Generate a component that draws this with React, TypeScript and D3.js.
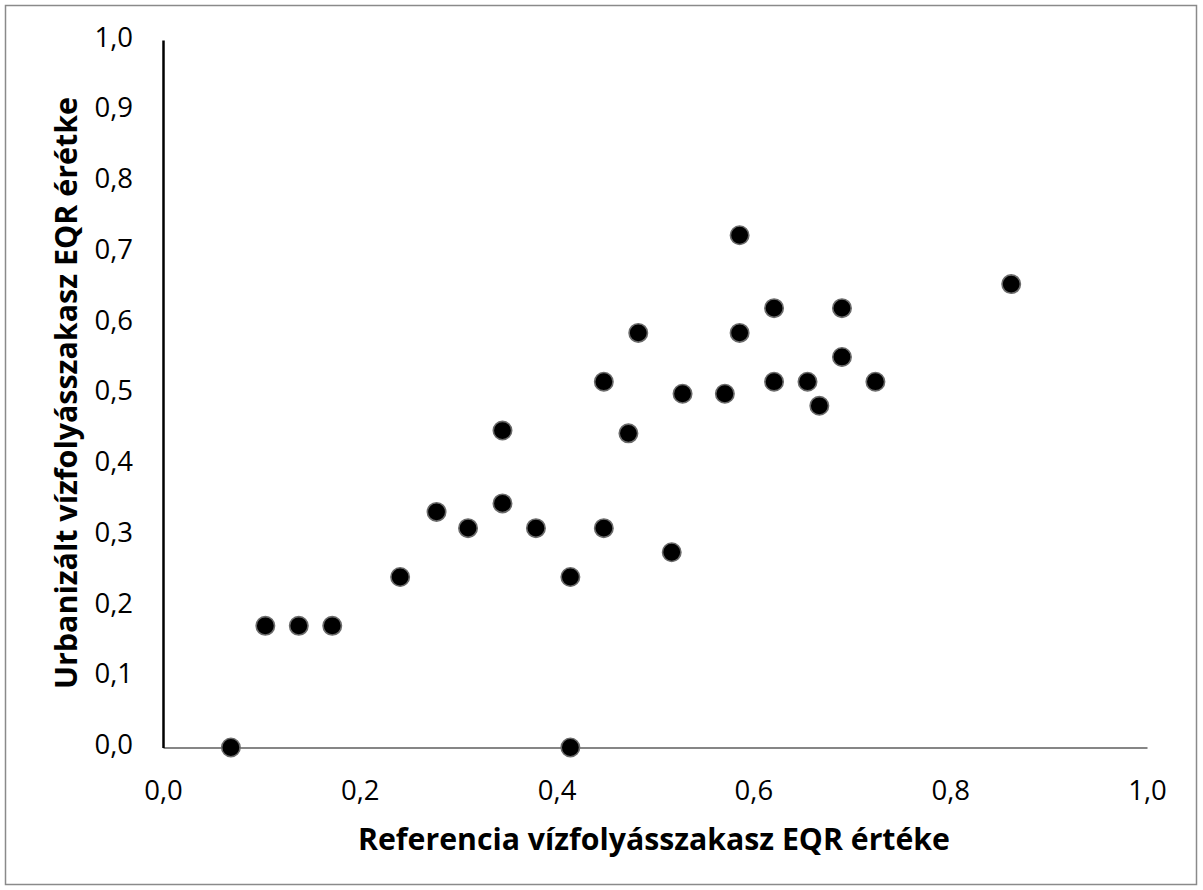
import React, { useEffect, useRef } from 'react';
import * as d3 from 'd3';

// Reference stream reach EQR (x) vs urbanized stream reach EQR (y)
const refEQR = [0.069, 0.104, 0.138, 0.172, 0.241, 0.278, 0.310, 0.345, 0.345, 0.379,
  0.414, 0.414, 0.448, 0.448, 0.473, 0.483, 0.517, 0.528, 0.571, 0.586,
  0.586, 0.621, 0.621, 0.655, 0.667, 0.690, 0.690, 0.724, 0.862];
const urbEQR = [0.000, 0.172, 0.172, 0.172, 0.241, 0.333, 0.310, 0.448, 0.345, 0.310,
  0.241, 0.000, 0.517, 0.310, 0.444, 0.586, 0.276, 0.500, 0.500, 0.724,
  0.586, 0.621, 0.517, 0.517, 0.483, 0.621, 0.552, 0.517, 0.655];
const xTicks = [0, 0.2, 0.4, 0.6, 0.8, 1.0];
const yTicks = [0, 0.1, 0.2, 0.3, 0.4, 0.5, 0.6, 0.7, 0.8, 0.9, 1.0];
const xTitle = 'Referencia vízfolyásszakasz EQR értéke';
const yTitle = 'Urbanizált vízfolyásszakasz EQR érétke';

const W = 1203, H = 890;
const fmt = (v: number) => v.toFixed(1).replace('.', ',');

export default function App() {
  const ref = useRef<SVGSVGElement>(null);

  useEffect(() => {
    const svg = d3.select(ref.current);
    svg.selectAll('*').remove();

    const x = d3.scaleLinear().domain([0, 1]).range([163, 1147]);
    const y = d3.scaleLinear().domain([0, 1]).range([747.5, 40]);

    // outer frame
    svg.append('rect')
      .attr('x', 5.5).attr('y', 5.5)
      .attr('width', 1191).attr('height', 879)
      .attr('fill', '#fff').attr('stroke', '#8a8a8a').attr('stroke-width', 1.5);

    // x axis (gray line, labels only)
    const xAxis = svg.append('g')
      .attr('transform', `translate(0,${y(0)})`)
      .call(d3.axisBottom(x).tickValues(xTicks).tickFormat(fmt as any).tickSize(0).tickPadding(33));
    xAxis.select('.domain').attr('stroke', '#868686').attr('stroke-width', 2);
    xAxis.selectAll('text')
      .attr('font-family', '"Open Sans", sans-serif')
      .attr('font-size', 27.5).attr('fill', '#000');

    // y axis (black line)
    const yAxis = svg.append('g')
      .attr('transform', `translate(${x(0)},0)`)
      .call(d3.axisLeft(y).tickValues(yTicks).tickFormat(fmt as any).tickSize(0).tickPadding(30));
    yAxis.select('.domain').attr('stroke', '#000').attr('stroke-width', 2.5);
    yAxis.selectAll('text')
      .attr('font-family', '"Open Sans", sans-serif')
      .attr('font-size', 27.5).attr('fill', '#000')
      .attr('dy', '0.22em');

    // points
    svg.append('g')
      .selectAll('circle')
      .data(refEQR.map((v, i) => [v, urbEQR[i]]))
      .enter().append('circle')
      .attr('cx', d => x(d[0]))
      .attr('cy', d => y(d[1]))
      .attr('r', 9.2)
      .attr('fill', '#000')
      .attr('stroke', '#6b6b6b')
      .attr('stroke-width', 1.6);

    // axis titles
    svg.append('text')
      .attr('x', 654).attr('y', 850)
      .attr('text-anchor', 'middle')
      .attr('font-family', '"Open Sans", sans-serif')
      .attr('font-weight', 'bold').attr('font-size', 31)
      .attr('textLength', 592).attr('lengthAdjust', 'spacingAndGlyphs')
      .text(xTitle);

    svg.append('text')
      .attr('transform', 'translate(77,393) rotate(-90)')
      .attr('text-anchor', 'middle')
      .attr('font-family', '"Open Sans", sans-serif')
      .attr('font-weight', 'bold').attr('font-size', 31)
      .attr('textLength', 592).attr('lengthAdjust', 'spacingAndGlyphs')
      .text(yTitle);
  }, []);

  return (
    <svg ref={ref} width={W} height={H}
      style={{ position: 'absolute', left: 0, top: 0, display: 'block', background: '#fff' }} />
  );
}
